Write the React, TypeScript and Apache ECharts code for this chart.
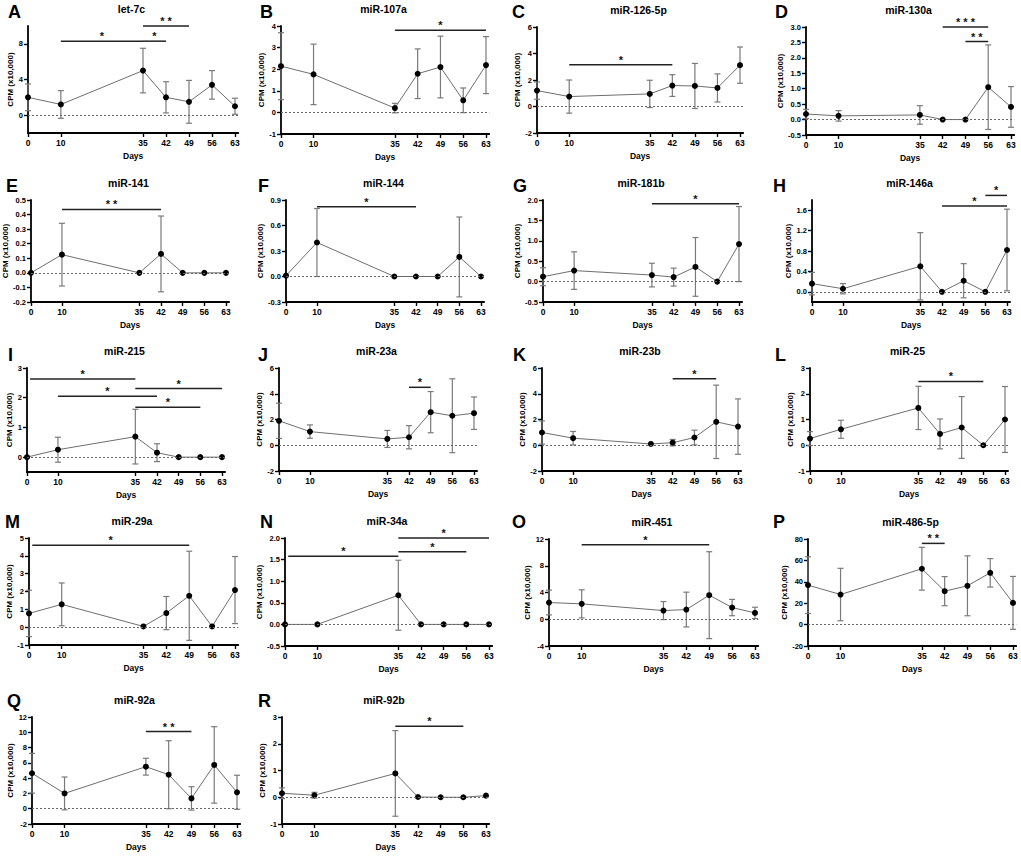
import React, { useEffect, useRef } from "react";
import * as echarts from "echarts";

const days = [0, 10, 35, 42, 49, 56, 63];
const letters = ["A","B","C","D","E","F","G","H","I","J","K","L","M","N","O","P","Q","R"];
const titles = ["let-7c","miR-107a","miR-126-5p","miR-130a","miR-141","miR-144","miR-181b","miR-146a","miR-215","miR-23a","miR-23b","miR-25","miR-29a","miR-34a","miR-451","miR-486-5p","miR-92a","miR-92b"];

// means and SDs (CPM x10,000) per panel, at days 0,10,35,42,49,56,63
const meanA = [2.0, 1.2, 5.0, 2.0, 1.5, 3.4, 1.0];
const sdA = [1.5, 1.55, 2.5, 1.75, 2.4, 1.6, 0.9];
const meanB = [2.14, 1.76, 0.2, 1.79, 2.1, 0.56, 2.19];
const sdB = [1.55, 1.4, 0.22, 1.15, 1.43, 0.57, 1.32];
const meanC = [1.2, 0.75, 0.95, 1.58, 1.55, 1.4, 3.12];
const sdC = [0.65, 1.25, 1.03, 0.82, 1.7, 1.06, 1.37];
const meanD = [0.18, 0.12, 0.15, 0, 0, 1.05, 0.41];
const sdD = [0.15, 0.17, 0.3, 0, 0, 1.37, 0.66];
const meanE = [0, 0.125, 0, 0.13, 0, 0, 0];
const sdE = [0, 0.215, 0, 0.26, 0, 0, 0];
const meanF = [0.01, 0.4, 0, 0, 0, 0.23, 0];
const sdF = [0, 0.4, 0, 0, 0, 0.47, 0];
const meanG = [0.12, 0.27, 0.16, 0.11, 0.36, 0, 0.92];
const sdG = [0.22, 0.46, 0.29, 0.22, 0.72, 0, 0.92];
const meanH = [0.16, 0.06, 0.5, 0, 0.217, 0, 0.82];
const sdH = [0.22, 0.1, 0.66, 0, 0.335, 0, 0.8];
const meanI = [0, 0.25, 0.69, 0.15, 0, 0, 0];
const sdI = [0, 0.42, 0.92, 0.3, 0, 0, 0];
const meanJ = [1.9, 1.06, 0.49, 0.62, 2.57, 2.29, 2.49];
const sdJ = [1.37, 0.52, 0.66, 0.9, 1.6, 2.87, 1.26];
const meanK = [0.99, 0.55, 0.1, 0.2, 0.6, 1.82, 1.45];
const sdK = [0.9, 0.52, 0, 0.25, 0.57, 2.85, 2.15];
const meanL = [0.26, 0.62, 1.45, 0.44, 0.69, 0, 1.0];
const sdL = [0.27, 0.35, 0.84, 0.58, 1.2, 0, 1.28];
const meanM = [0.77, 1.28, 0.04, 0.79, 1.76, 0.04, 2.08];
const sdM = [1.3, 1.2, 0, 0.93, 2.5, 0, 1.88];
const meanN = [0, 0, 0.675, 0, 0, 0, 0];
const sdN = [0, 0, 0.81, 0, 0, 0, 0];
const meanO = [2.5, 2.3, 1.3, 1.45, 3.6, 1.75, 0.95];
const sdO = [1.85, 2.1, 1.35, 2.6, 6.5, 1.22, 0.85];
const meanP = [36.9, 28.1, 52.2, 31.25, 36.25, 48.4, 20.3];
const sdP = [26.5, 24.5, 20, 13.6, 28, 13.3, 24.7];
const meanQ = [4.64, 2.0, 5.5, 4.45, 1.35, 5.73, 2.15];
const sdQ = [2.6, 2.15, 1.1, 4.45, 1.53, 5.0, 2.23];
const meanR = [0.15, 0.075, 0.89, 0.01, 0, 0, 0.06];
const sdR = [0.2, 0.11, 1.6, 0, 0, 0, 0];

// significance brackets: [fromDay, toDay, yValue, number of stars]
const brA = [[10, 35, 8.3, 1], [35, 42, 8.3, 1], [35, 49, 10.0, 2]];
const brB = [[35, 63, 3.8, 1]];
const brC = [[10, 42, 3.15, 1]];
const brD = [[42, 56, 3.0, 3], [49, 56, 2.53, 2]];
const brE = [[10, 42, 0.435, 2]];
const brF = [[10, 42, 0.82, 1]];
const brG = [[35, 63, 1.91, 1]];
const brH = [[42, 63, 1.68, 1], [56, 63, 1.89, 1]];
const brI = [[1, 35, 2.63, 1], [35, 63, 2.31, 1], [10, 42, 2.05, 1], [35, 56, 1.68, 1]];
const brJ = [[42, 49, 4.5, 1]];
const brK = [[42, 56, 5.17, 1]];
const brL = [[35, 56, 2.48, 1]];
const brM = [[1, 49, 4.6, 1]];
const brN = [[1, 35, 1.58, 1], [35, 63, 2.0, 1], [35, 56, 1.68, 1]];
const brO = [[10, 49, 11.15, 1]];
const brP = [[35, 42, 75.9, 2]];
const brQ = [[35, 49, 10.1, 2]];
const brR = [[35, 56, 2.65, 1]];

// y-axis ranges and tick labels
const yMin = [-2, -1, -2, -0.5, -0.2, -0.3, -0.5, -0.2, -0.5, -2, -2, -1, -1, -0.5, -4, -20, -2, -1];
const yMax = [10, 4, 6, 3.0, 0.5, 0.9, 2.0, 1.8, 3, 6, 6, 3, 5, 2.0, 12, 80, 12, 3];
const yTicks = [
  [0, 4, 8],
  [-1, 0, 1, 2, 3, 4],
  [-2, 0, 2, 4, 6],
  [-0.5, 0, 0.5, 1.0, 1.5, 2.0, 2.5, 3.0],
  [-0.2, -0.1, 0, 0.1, 0.2, 0.3, 0.4, 0.5],
  [-0.3, 0, 0.3, 0.6, 0.9],
  [-0.5, 0, 0.5, 1.0, 1.5, 2.0],
  [0, 0.4, 0.8, 1.2, 1.6],
  [0, 1, 2, 3],
  [-2, 0, 2, 4, 6],
  [-2, 0, 2, 4, 6],
  [-1, 0, 1, 2, 3],
  [-1, 0, 1, 2, 3, 4, 5],
  [-0.5, 0, 0.5, 1.0, 1.5, 2.0],
  [-4, 0, 4, 8, 12],
  [-20, 0, 20, 40, 60, 80],
  [-2, 0, 2, 4, 6, 8, 10, 12],
  [-1, 0, 1, 2, 3],
];

const means = [meanA, meanB, meanC, meanD, meanE, meanF, meanG, meanH, meanI, meanJ, meanK, meanL, meanM, meanN, meanO, meanP, meanQ, meanR];
const sds = [sdA, sdB, sdC, sdD, sdE, sdF, sdG, sdH, sdI, sdJ, sdK, sdL, sdM, sdN, sdO, sdP, sdQ, sdR];
const brackets = [brA, brB, brC, brD, brE, brF, brG, brH, brI, brJ, brK, brL, brM, brN, brO, brP, brQ, brR];

// layout: [x of day 0, x of day 63, plot top, plot bottom, letter x]
const layout = [
  [28, 235, 26, 133, 8], [281, 486, 26, 134, 260], [537, 740, 27, 133, 512], [806, 1011, 27, 135, 775],
  [31, 226, 200, 302, 6], [286, 481, 200, 302, 258], [543, 739, 200, 302, 513], [812, 1007, 200, 302, 773],
  [27, 222, 368, 472, 8], [279, 474, 368, 471, 258], [542, 738, 368, 471, 513], [810, 1005, 368, 471, 775],
  [29, 235, 538, 645, 5], [285, 489, 538, 646, 260], [549, 755, 539, 646, 512], [808, 1013, 539, 646, 773],
  [32, 237, 717, 824, 7], [282, 486, 717, 824, 258],
];
const rowLetterY = [12, 186, 355, 522, 701];

const FONT = "'Liberation Sans', Arial, Helvetica, sans-serif";
const X_MAX = 64;
const Y_LABEL_SIZE = 7.5;

function labelWidth(s: string) {
  let w = 0;
  for (const ch of s) w += ch === "-" ? 0.333 : ch === "." ? 0.278 : 0.556;
  return w * Y_LABEL_SIZE;
}

function buildOption() {
  const grid: any[] = [];
  const xAxis: any[] = [];
  const yAxis: any[] = [];
  const series: any[] = [];
  const graphic: any[] = [];

  titles.forEach((title, i) => {
    const [x0, x63, top, bottom, letterX] = layout[i];
    const w = ((x63 - x0) * X_MAX) / 63;
    grid.push({ left: x0, top, width: w, height: bottom - top });
    xAxis.push({
      gridIndex: i,
      type: "value",
      min: 0,
      max: X_MAX,
      splitLine: { show: false },
      axisLine: { onZero: false, lineStyle: { color: "#000", width: 1.8 } },
      axisTick: { customValues: days, length: 4, lineStyle: { color: "#000", width: 1.4 } },
      axisLabel: { customValues: days, fontSize: 8.5, fontWeight: "bold", color: "#000", fontFamily: FONT, margin: 5 },
      name: "Days",
      nameLocation: "middle",
      nameGap: 18,
      nameTextStyle: { fontSize: 8.5, fontWeight: "bold", color: "#000", fontFamily: FONT },
    });
    const ticks = yTicks[i];
    const dec = ticks.some((t) => Math.round(t) !== t) ? 1 : 0;
    const fmt = (v: number) => Number(v).toFixed(dec);
    const maxLabel = Math.max(...ticks.map((t) => labelWidth(fmt(t))));
    yAxis.push({
      gridIndex: i,
      type: "value",
      min: yMin[i],
      max: yMax[i],
      splitLine: { show: false },
      axisLine: { show: true, onZero: false, lineStyle: { color: "#000", width: 1.8 } },
      axisTick: { show: true, customValues: ticks, length: 4, lineStyle: { color: "#000", width: 1.4 } },
      axisLabel: {
        customValues: ticks,
        fontSize: Y_LABEL_SIZE,
        fontWeight: "bold",
        color: "#000",
        fontFamily: FONT,
        margin: 5,
        formatter: fmt,
      },
      name: "CPM (x10,000)",
      nameLocation: "middle",
      nameRotate: 90,
      nameGap: Math.round(maxLabel + 8),
      nameTextStyle: { fontSize: 8, fontWeight: "bold", color: "#000", fontFamily: FONT },
    });

    const m = means[i];
    const s = sds[i];
    series.push({
      type: "custom",
      xAxisIndex: i,
      yAxisIndex: i,
      z: 2,
      silent: true,
      data: days.map((d, k) => [d, m[k], s[k]]),
      renderItem: (params: any, api: any) => {
        const x = api.value(0);
        const mv = api.value(1);
        const sv = api.value(2);
        if (!sv) return { type: "group", children: [] };
        const t = api.coord([x, mv + sv]);
        const b = api.coord([x, mv - sv]);
        const c = 3;
        const st = { stroke: "#7a7a7a", lineWidth: 1.2 };
        return {
          type: "group",
          children: [
            { type: "line", shape: { x1: t[0], y1: t[1], x2: b[0], y2: b[1] }, style: st },
            { type: "line", shape: { x1: t[0] - c, y1: t[1], x2: t[0] + c, y2: t[1] }, style: st },
            { type: "line", shape: { x1: b[0] - c, y1: b[1], x2: b[0] + c, y2: b[1] }, style: st },
          ],
        };
      },
    });
    series.push({
      type: "line",
      xAxisIndex: i,
      yAxisIndex: i,
      z: 3,
      data: days.map((d, k) => [d, m[k]]),
      symbol: "circle",
      symbolSize: 6,
      itemStyle: { color: "#000" },
      lineStyle: { color: "#6e6e6e", width: 1 },
      markLine: {
        silent: true,
        symbol: "none",
        label: { show: false },
        lineStyle: { type: [2, 2], color: "#666", width: 1 },
        data: [{ yAxis: 0 }],
      },
    });
    series.push({
      type: "custom",
      xAxisIndex: i,
      yAxisIndex: i,
      z: 4,
      silent: true,
      clip: false,
      data: brackets[i],
      renderItem: (params: any, api: any) => {
        const a = api.coord([api.value(0), api.value(2)]);
        const b = api.coord([api.value(1), api.value(2)]);
        const n = api.value(3);
        return {
          type: "group",
          children: [
            { type: "line", shape: { x1: a[0], y1: a[1], x2: b[0], y2: b[1] }, style: { stroke: "#222", lineWidth: 1.5 } },
            {
              type: "text",
              x: (a[0] + b[0]) / 2,
              y: a[1] - 5,
              style: {
                text: "*".repeat(n).split("").join(" "),
                fill: "#111",
                fontSize: 11,
                fontWeight: "bold",
                fontFamily: FONT,
                align: "center",
                verticalAlign: "middle",
                lineHeight: 8,
              },
            },
          ],
        };
      },
    });

    graphic.push({
      type: "text",
      x: (x0 + x63) / 2,
      y: top - 17,
      style: { text: title, fill: "#000", fontSize: 10.5, fontWeight: "bold", fontFamily: FONT, align: "center", verticalAlign: "middle" },
    });
    graphic.push({
      type: "text",
      x: letterX,
      y: rowLetterY[Math.floor(i / 4)],
      style: { text: letters[i], fill: "#000", fontSize: 18, lineHeight: 14, fontWeight: "bold", fontFamily: FONT, align: "left", verticalAlign: "middle" },
    });
  });

  return { animation: false, backgroundColor: "#fff", grid, xAxis, yAxis, series, graphic };
}

export default function App() {
  const ref = useRef<HTMLDivElement>(null);
  useEffect(() => {
    document.body.style.margin = "0";
    if (!ref.current) return;
    const chart = echarts.init(ref.current, undefined, { renderer: "svg" });
    chart.setOption(buildOption() as any);
    return () => chart.dispose();
  }, []);
  return <div ref={ref} style={{ width: 1021, height: 857 }} />;
}
